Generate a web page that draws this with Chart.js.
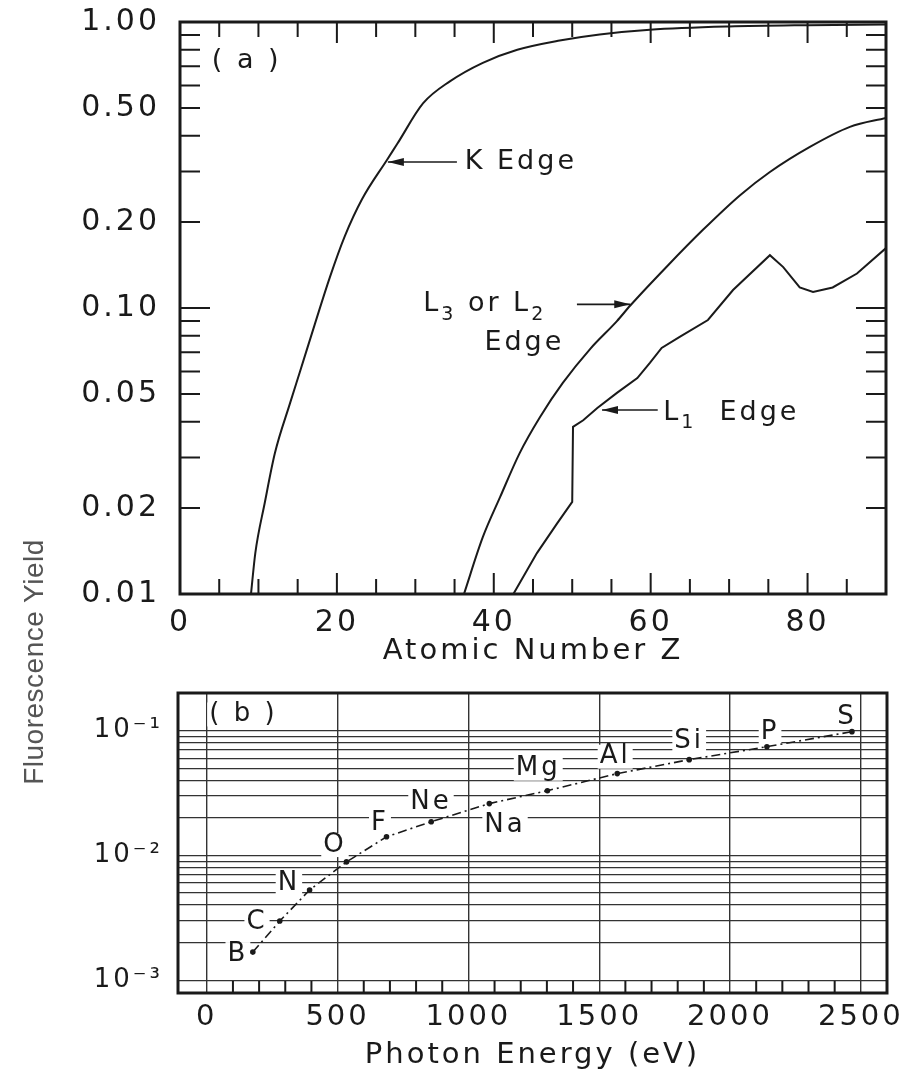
<!DOCTYPE html>
<html>
<head>
<meta charset="utf-8">
<title>Fluorescence Yield</title>
<script src="https://cdn.jsdelivr.net/npm/chart.js@4.4.1/dist/chart.umd.min.js"></script>
<style>
  html, body { margin: 0; padding: 0; background: #fff; }
  #wrap { position: relative; width: 911px; height: 1077px; overflow: hidden; background: #fff; }
  canvas { position: absolute; left: 0; }
  #chartA { top: 0; }
  #chartB { top: 680px; }
  #yTitle {
    position: absolute; left: -115px; top: 645px; width: 300px; height: 34px; line-height: 34px;
    text-align: center; transform: rotate(-90deg);
    font: 28px 'Liberation Sans', Arial, sans-serif; color: #555; letter-spacing: 0.5px;
  }
</style>
</head>
<body>
<div id="wrap">
  <canvas id="chartA" width="911" height="680"></canvas>
  <canvas id="chartB" width="911" height="397"></canvas>
  <div id="yTitle">Fluorescence Yield</div>
</div>
<script>
const INK = '#1a1a1a';
const FONT = "'DejaVu Sans', sans-serif";

// (a) yield vs atomic number
const kEdgeZ      = [9.05, 9.6, 10.8, 12.1, 14.0, 15.3, 17.2, 19.1, 21.0, 23.2, 26.4, 27.7, 31.0, 34.4, 38.6, 43.0, 48.4, 53.5, 59.9, 70, 80, 90];
const kEdgeYield  = [0.010, 0.0139, 0.0208, 0.0311, 0.0462, 0.0600, 0.0880, 0.128, 0.178, 0.240, 0.330, 0.375, 0.520, 0.620, 0.720, 0.800, 0.862, 0.905, 0.940, 0.965, 0.975, 0.980];
const l3EdgeZ     = [36.2, 38.6, 40.8, 43.3, 45.9, 48.8, 52.3, 55.7, 57.4, 62.1, 66.7, 71.4, 75.2, 80.3, 85.4, 90];
const l3EdgeYield = [0.010, 0.0158, 0.0218, 0.0311, 0.0416, 0.0547, 0.0720, 0.0900, 0.102, 0.140, 0.188, 0.248, 0.299, 0.366, 0.430, 0.462];
const l1EdgeZ     = [42.5, 45.5, 48.1, 50.0, 50.1, 51.4, 53.2, 55.7, 58.3, 59.9, 61.4, 63.7, 67.3, 70.5, 75.2, 76.9, 79.0, 80.7, 83.2, 86.3, 90];
const l1EdgeYield = [0.010, 0.0139, 0.0177, 0.0210, 0.0384, 0.0405, 0.0447, 0.0505, 0.0569, 0.0643, 0.0725, 0.0792, 0.0908, 0.1156, 0.153, 0.139, 0.118, 0.1137, 0.118, 0.132, 0.162];

const zTicks      = [0, 20, 40, 60, 80];
const yieldTicksA = [0.01, 0.02, 0.05, 0.1, 0.2, 0.5, 1.0];

// (b) K-shell yield vs photon energy for light elements
const elements    = ['B', 'C', 'N', 'O', 'F', 'Ne', 'Na', 'Mg', 'Al', 'Si', 'P', 'S'];
const kEnergy     = [176, 279, 393, 534, 687, 858, 1080, 1302, 1569, 1844, 2141, 2466];
const kYield      = [0.00168, 0.00298, 0.00528, 0.00887, 0.0141, 0.0186, 0.026, 0.033, 0.0452, 0.0585, 0.0743, 0.098];
// where each element name sits (energy, yield)
const labelEnergy = [119, 192, 314, 490, 662, 857, 1140, 1267, 1561, 1844, 2153, 2447];
const labelYield  = [0.00162, 0.00292, 0.00601, 0.0121, 0.0182, 0.0269, 0.0176, 0.0495, 0.0618, 0.0817, 0.0964, 0.129];

const energyTicks   = [0, 500, 1000, 1500, 2000, 2500];
const decadesB      = [0.001, 0.01, 0.1];
const decadeLabelsB = ['10\u207B\u00B3', '10\u207B\u00B2', '10\u207B\u00B9'];
const mantissas     = [1, 2, 3, 4, 5, 6, 7, 8, 9];

const gridB = [...decadesB.slice(0, 2).flatMap(d => mantissas.map(m => m * d)), 0.1, 0.2];

const pts = (xs, ys) => xs.map((x, i) => ({ x, y: ys[i] }));

function zeroPad(s) { s.paddingLeft = s.paddingRight = s.paddingTop = s.paddingBottom = 0; }

const spacing = {
  id: 'spacing',
  beforeLayout(c) { c.ctx.letterSpacing = '3px'; },
  beforeDraw(c) { c.ctx.letterSpacing = '3px'; }
};

function framePlugin() {
  return {
    id: 'frame',
    afterDatasetsDraw(c) {
      const { ctx, chartArea: a } = c;
      ctx.save();
      ctx.strokeStyle = INK;
      ctx.lineWidth = 3;
      ctx.strokeRect(a.left, a.top, a.right - a.left, a.bottom - a.top);
      ctx.restore();
    }
  };
}

// short tick marks drawn inside the frame
function insideTicks(cfg) {
  return {
    id: 'insideTicks',
    afterDatasetsDraw(c) {
      const { ctx, chartArea: a, scales } = c;
      ctx.save();
      ctx.strokeStyle = INK;
      ctx.lineWidth = 2;
      ctx.beginPath();
      if (cfg.x) cfg.x.values.forEach(v => {
        const px = scales.x.getPixelForValue(v);
        const len = cfg.x.long.includes(v) ? cfg.x.longLen : cfg.x.len;
        if (cfg.x.sides.includes('bottom')) { ctx.moveTo(px, a.bottom); ctx.lineTo(px, a.bottom - len); }
        if (cfg.x.sides.includes('top')) { ctx.moveTo(px, a.top); ctx.lineTo(px, a.top + len); }
      });
      if (cfg.y) cfg.y.values.forEach(v => {
        const py = scales.y.getPixelForValue(v);
        const len = cfg.y.long.includes(v) ? cfg.y.longLen : cfg.y.len;
        if (cfg.y.sides.includes('left')) { ctx.moveTo(a.left, py); ctx.lineTo(a.left + len, py); }
        if (cfg.y.sides.includes('right')) { ctx.moveTo(a.right, py); ctx.lineTo(a.right - len, py); }
      });
      ctx.stroke();
      ctx.restore();
    }
  };
}

function rich(ctx, x, y, parts, size, align) {
  const sub = Math.round(size * 0.72);
  ctx.textBaseline = 'middle';
  ctx.textAlign = 'left';
  const widths = parts.map(([t, s]) => { ctx.font = `${s ? sub : size}px ${FONT}`; return ctx.measureText(t).width; });
  const total = widths.reduce((acc, w) => acc + w, 0);
  let cx = align === 'center' ? x - total / 2 : x;
  parts.forEach(([t, s], i) => {
    ctx.font = `${s ? sub : size}px ${FONT}`;
    ctx.fillText(t, cx, s ? y + size * 0.38 : y);
    cx += widths[i];
  });
}

function arrow(ctx, x1, y1, x2, y2) {
  ctx.lineWidth = 1.6;
  ctx.beginPath(); ctx.moveTo(x1, y1); ctx.lineTo(x2, y2); ctx.stroke();
  const ang = Math.atan2(y2 - y1, x2 - x1), L = 16, W = 4;
  const bx = x2 - L * Math.cos(ang), by = y2 - L * Math.sin(ang);
  ctx.beginPath();
  ctx.moveTo(x2, y2);
  ctx.lineTo(bx + W * Math.sin(ang), by - W * Math.cos(ang));
  ctx.lineTo(bx - W * Math.sin(ang), by + W * Math.cos(ang));
  ctx.closePath();
  ctx.fill();
}

// curve labels of panel (a), placed in data units
const notesA = [
  { z: 8.5,  v: 0.73,   parts: [['( a )']], align: 'center' },
  { z: 36.3, v: 0.324,  parts: [['K Edge']] },
  { z: 31.0, v: 0.103,  parts: [['L'], ['3', 1], [' or L'], ['2', 1]] },
  { z: 43.9, v: 0.0755, parts: [['Edge']], align: 'center' },
  { z: 61.6, v: 0.043,  parts: [['L'], ['1', 1], ['  Edge']] },
];
const arrowsA = [
  { from: [35.3, 0.324], to: [26.5, 0.324] },
  { from: [50.6, 0.103], to: [57.4, 0.103] },
  { from: [60.9, 0.044], to: [53.8, 0.044] },
];

const notesPluginA = {
  id: 'notesA',
  afterDatasetsDraw(c) {
    const { ctx, scales: { x, y } } = c;
    ctx.save();
    ctx.fillStyle = INK;
    ctx.strokeStyle = INK;
    notesA.forEach(n => rich(ctx, x.getPixelForValue(n.z), y.getPixelForValue(n.v), n.parts, 27, n.align));
    arrowsA.forEach(a => arrow(ctx,
      x.getPixelForValue(a.from[0]), y.getPixelForValue(a.from[1]),
      x.getPixelForValue(a.to[0]), y.getPixelForValue(a.to[1])));
    ctx.restore();
  }
};

const labelsPluginB = {
  id: 'labelsB',
  beforeDatasetsDraw(c) {
    const { ctx, scales: { x, y } } = c;
    ctx.save();
    ctx.textAlign = 'center';
    ctx.textBaseline = 'middle';
    const put = (text, px, py, size) => {
      ctx.font = `${size}px ${FONT}`;
      const w = ctx.measureText(text).width;
      ctx.fillStyle = '#fff';
      ctx.fillRect(px - w / 2 - 2, py - 12, w + 4, 24);
      ctx.fillStyle = INK;
      ctx.fillText(text, px, py);
    };
    elements.forEach((name, i) => put(name, x.getPixelForValue(labelEnergy[i]), y.getPixelForValue(labelYield[i]), 26));
    put('( b )', x.getPixelForValue(140), y.getPixelForValue(0.1346), 26);
    ctx.restore();
  }
};

const tickFont = size => ({ family: FONT, size });

function curve(xs, ys, mode) {
  return {
    data: pts(xs, ys),
    borderColor: INK,
    borderWidth: 2,
    pointRadius: 0,
    fill: false,
    cubicInterpolationMode: mode,
    tension: 0
  };
}

new Chart(document.getElementById('chartA'), {
  type: 'line',
  data: {
    datasets: [
      curve(kEdgeZ, kEdgeYield, 'monotone'),
      curve(l3EdgeZ, l3EdgeYield, 'monotone'),
      curve(l1EdgeZ, l1EdgeYield, 'default'),
    ]
  },
  options: {
    responsive: false,
    animation: false,
    events: [],
    layout: { padding: { top: 22, right: 25, left: 0, bottom: 0 } },
    plugins: { legend: { display: false }, tooltip: { enabled: false } },
    scales: {
      x: {
        type: 'linear', min: 0, max: 90,
        grid: { display: false }, border: { display: false },
        afterBuildTicks: s => { s.ticks = zTicks.map(value => ({ value })); },
        afterFit: s => { s.height = 86; zeroPad(s); },
        ticks: { padding: 3, color: INK, font: tickFont(30), autoSkip: false, maxRotation: 0, callback: v => String(v) },
        title: { display: true, text: 'Atomic Number Z', color: INK, font: tickFont(29), padding: { top: 0, bottom: 11 } }
      },
      y: {
        type: 'logarithmic', min: 0.01, max: 1,
        grid: { display: false }, border: { display: false },
        afterBuildTicks: s => { s.ticks = yieldTicksA.map(value => ({ value })); },
        afterFit: s => { s.width = 180; zeroPad(s); },
        ticks: { padding: 12, color: INK, font: tickFont(30), autoSkip: false, callback: v => Number(v).toFixed(2) }
      }
    }
  },
  plugins: [spacing, notesPluginA, framePlugin(), insideTicks({
    x: { values: [5, 10, 15, 20, 25, 30, 35, 40, 45, 50, 55, 60, 65, 70, 75, 80, 85], long: [20, 40, 60, 80], len: 15, longLen: 21, sides: ['top', 'bottom'] },
    y: { values: [0.02, 0.03, 0.04, 0.05, 0.06, 0.07, 0.08, 0.09, 0.1, 0.2, 0.3, 0.4, 0.5, 0.6, 0.7, 0.8, 0.9], long: [0.1], len: 20, longLen: 30, sides: ['left', 'right'] }
  })]
});

new Chart(document.getElementById('chartB'), {
  type: 'line',
  data: {
    datasets: [{
      data: pts(kEnergy, kYield),
      borderColor: INK,
      borderWidth: 1.6,
      borderDash: [9, 4, 2, 4],
      pointRadius: 2.8,
      pointBorderWidth: 0,
      pointBackgroundColor: INK,
      fill: false,
      tension: 0
    }]
  },
  options: {
    responsive: false,
    animation: false,
    events: [],
    layout: { padding: { top: 13, right: 24, left: 0, bottom: 0 } },
    plugins: { legend: { display: false }, tooltip: { enabled: false } },
    scales: {
      x: {
        type: 'linear', min: -110, max: 2600,
        grid: { color: '#333', lineWidth: 1.4, drawTicks: false }, border: { display: false },
        afterBuildTicks: s => { s.ticks = energyTicks.map(value => ({ value })); },
        afterFit: s => { s.height = 84; zeroPad(s); },
        ticks: { padding: 7, color: INK, font: tickFont(29), autoSkip: false, maxRotation: 0, callback: v => String(v) },
        title: { display: true, text: 'Photon Energy (eV)', color: INK, font: tickFont(29), padding: { top: 0, bottom: 4 } }
      },
      y: {
        type: 'logarithmic', min: 0.00079, max: 0.2,
        grid: { color: '#333', lineWidth: 1.2, drawTicks: false }, border: { display: false },
        afterBuildTicks: s => { s.ticks = gridB.map(value => ({ value })); },
        afterFit: s => { s.width = 178; zeroPad(s); },
        ticks: {
          padding: 15, color: INK, font: tickFont(26), autoSkip: false,
          callback: v => {
            const i = decadesB.findIndex(d => Math.abs(v / d - 1) < 1e-6);
            return i < 0 ? '' : decadeLabelsB[i];
          }
        }
      }
    }
  },
  plugins: [spacing, labelsPluginB, framePlugin(), insideTicks({
    x: { values: [100, 200, 300, 400, 600, 700, 800, 900, 1100, 1200, 1300, 1400, 1600, 1700, 1800, 1900, 2100, 2200, 2300, 2400], long: [], len: 12, longLen: 12, sides: ['bottom'] }
  })]
});
</script>
</body>
</html>
